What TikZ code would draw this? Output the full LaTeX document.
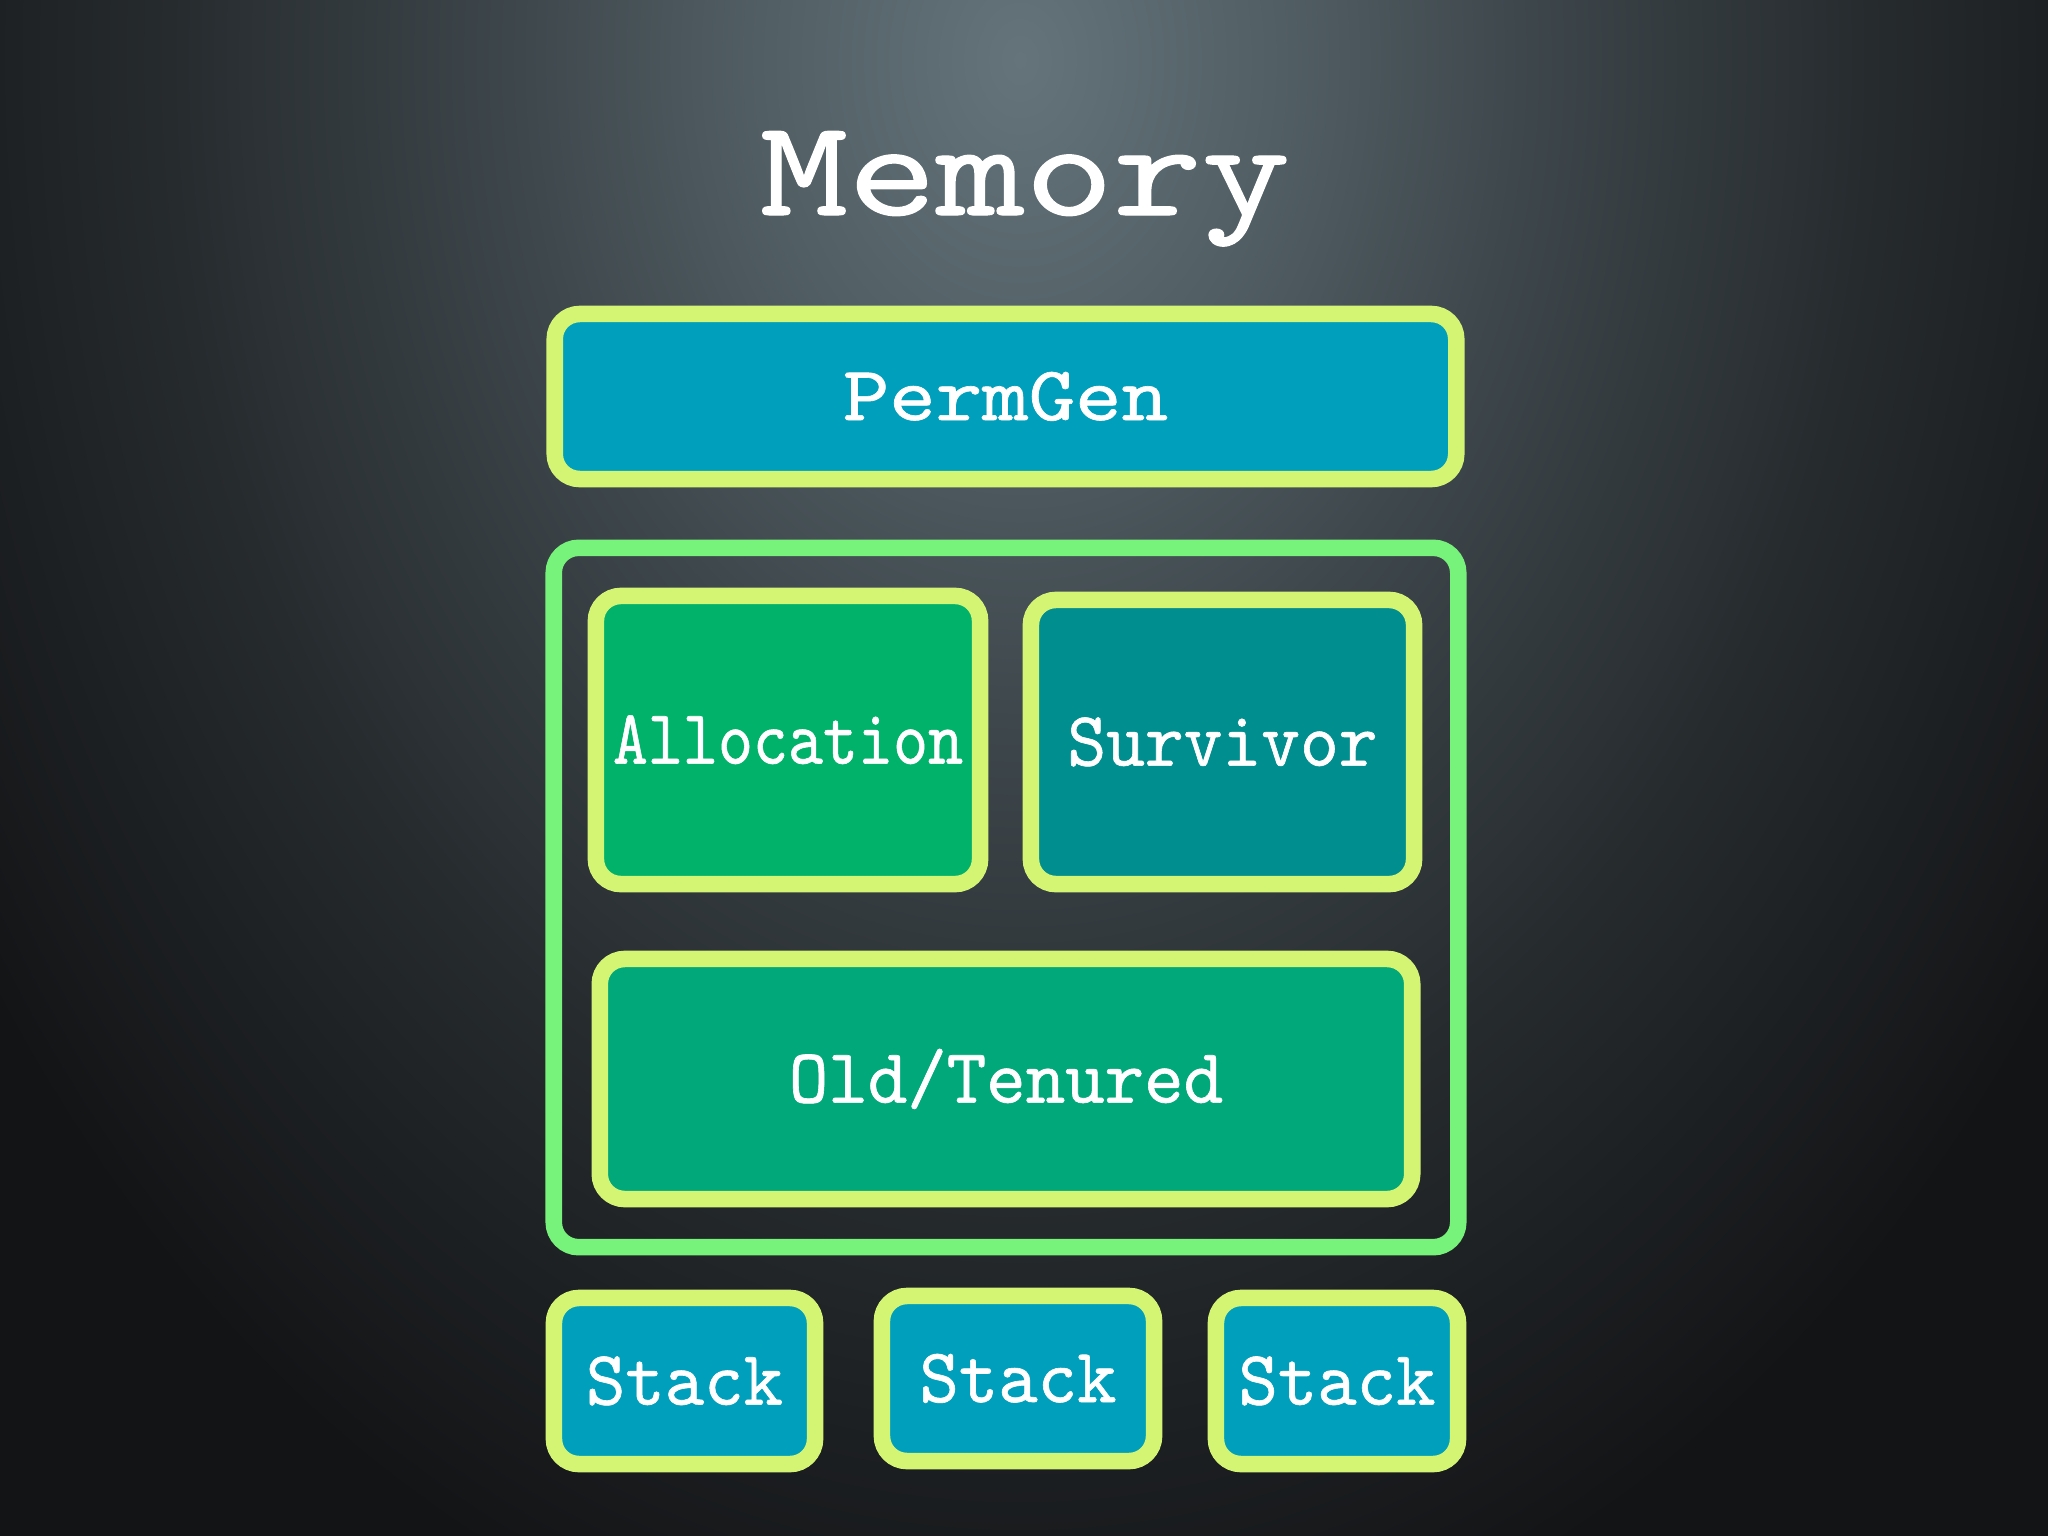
\documentclass[tikz,border=0pt]{standalone}
\usepackage{graphicx}
\usepackage{fontspec}
\newfontfamily\twfont{lmmono10-regular.otf}[FakeBold=0.8]
\definecolor{ylw}{RGB}{212,245,116}
\definecolor{heapgreen}{RGB}{119,242,122}
\definecolor{bluefill}{RGB}{0,160,188}
\definecolor{allocfill}{RGB}{0,178,106}
\definecolor{survfill}{RGB}{0,142,142}
\definecolor{oldfill}{RGB}{0,168,122}
\definecolor{bgA}{RGB}{100,116,122}
\definecolor{bgB}{RGB}{86,100,106}
\definecolor{bgC}{RGB}{62,71,76}
\definecolor{bgD}{RGB}{38,43,46}
\definecolor{bgE}{RGB}{19,20,22}
\pgfdeclareradialshading{bgshade}{\pgfpoint{0bp}{0bp}}{color(0bp)=(bgA); color(4bp)=(bgB); color(10bp)=(bgC); color(17bp)=(bgD); color(25bp)=(bgE); color(50bp)=(bgE)}
\tikzset{
  region/.style={draw=ylw, line width=4.7pt, rounded corners=0.25cm, inner sep=0pt,
    text=white, font=\fontsize{22}{26}\selectfont\twfont, text height=13.4pt, text depth=0pt},
  heapbox/.style={draw=heapgreen, line width=4.7pt, rounded corners=0.25cm, inner sep=0pt},
  titletext/.style={text=white, font=\fontsize{39}{44}\selectfont\twfont, text height=23.9pt, text depth=0pt, inner sep=0pt}
}
\begin{document}
\begin{tikzpicture}[x=0.01cm,y=-0.01cm]
\useasboundingbox (0,0) rectangle (2048,1536);
\fill[bgE] (0,0) rectangle (2048,1536);
\begin{scope}
  \clip (0,0) rectangle (2048,1536);
  \shade[shading=bgshade] (1020,60) ellipse [x radius=1250, y radius=1650];
\end{scope}

\node[titletext] (title) at (1025,173) {\resizebox{5.3cm}{\height}{Memory}};

\node[region, fill=bluefill, minimum width=9.01cm, minimum height=1.65cm] (permgen) at (1005.5,396.5) {\resizebox{3.25cm}{\height}{PermGen}};

\node[heapbox, minimum width=9.04cm, minimum height=6.99cm] (heap) at (1006,897.5) {};

\node[region, fill=allocfill, minimum width=3.84cm, minimum height=2.88cm] (alloc) at (788,740) {\resizebox{3.5cm}{\height}{Allocation}};
\node[region, fill=survfill, minimum width=3.83cm, minimum height=2.84cm] (surv) at (1222.5,742) {\resizebox{3.1cm}{\height}{Survivor}};
\node[region, fill=oldfill, minimum width=8.12cm, minimum height=2.40cm] (old) at (1006,1079) {\resizebox{4.34cm}{\height}{Old/Tenured}};

\node[region, fill=bluefill, minimum width=2.61cm, minimum height=1.66cm] (stack1) at (684.5,1381) {\resizebox{1.97cm}{\height}{Stack}};
\node[region, fill=bluefill, minimum width=2.72cm, minimum height=1.65cm] (stack2) at (1018,1378.5) {\resizebox{1.97cm}{\height}{Stack}};
\node[region, fill=bluefill, minimum width=2.42cm, minimum height=1.66cm] (stack3) at (1337,1381) {\resizebox{1.97cm}{\height}{Stack}};
\end{tikzpicture}
\end{document}
